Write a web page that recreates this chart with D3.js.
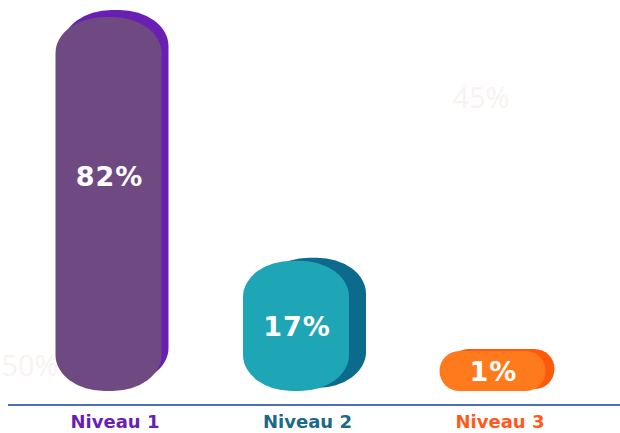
<!DOCTYPE html>
<html>
<head>
<meta charset="utf-8">
<script src="https://cdn.jsdelivr.net/npm/d3@7"></script>
<style>
  html, body { margin: 0; padding: 0; background: #fff; }
  svg { display: block; font-family: 'DejaVu Sans', 'Open Sans', sans-serif; }
</style>
</head>
<body>
<svg id="chart" width="620" height="433"></svg>
<script>
// data
const categories = ['Niveau 1', 'Niveau 2', 'Niveau 3']
const values = [82, 17, 1]
const frontColors = ['#6f4a82', '#1fa6b6', '#ff7a1c']
const backColors = ['#6a1fb4', '#0c6a8c', '#ff5a0c']
const labelColors = ['#6a1fb4', '#1b6a88', '#ff5a1c']

const baseY = 391
const barW = 106
const depth = [7, 17, 9]
const lift = [7, 3, 2]

const svg = d3.select('#chart')

const x = d3.scalePoint()
  .domain(categories)
  .range([112, 497])

const h = d3.scalePow()
  .exponent(0.67)
  .domain([0, 82])
  .range([0, 374])

const barH = (v) => Math.max(40, h(v))

// faint ghost labels in the background
svg.append('text')
  .attr('x', 481).attr('y', 108)
  .attr('text-anchor', 'middle')
  .attr('font-family', 'Open Sans, sans-serif')
  .attr('font-size', 29)
  .attr('fill', '#f8f3f1')
  .text('45%')
svg.append('text')
  .attr('x', 30).attr('y', 376)
  .attr('text-anchor', 'middle')
  .attr('font-family', 'Open Sans, sans-serif')
  .attr('font-size', 29)
  .attr('fill', '#f8f3f1')
  .text('50%')

const bars = svg.selectAll('g.bar')
  .data(values)
  .join('g')
  .attr('class', 'bar')

const rx = (hh) => Math.min(barW / 2 - 4, hh / 2)
const ry = (hh) => Math.min(36, hh / 2)

// back (3d side)
bars.append('rect')
  .attr('x', (d, i) => x(categories[i]) - (barW + depth[i]) / 2 + depth[i])
  .attr('y', (d, i) => baseY - barH(d) - lift[i])
  .attr('width', barW)
  .attr('height', (d) => barH(d))
  .attr('rx', (d) => rx(barH(d)))
  .attr('ry', (d) => ry(barH(d)))
  .attr('fill', (d, i) => backColors[i])

// front
bars.append('rect')
  .attr('x', (d, i) => x(categories[i]) - (barW + depth[i]) / 2)
  .attr('y', (d) => baseY - barH(d))
  .attr('width', barW)
  .attr('height', (d) => barH(d))
  .attr('rx', (d) => rx(barH(d)))
  .attr('ry', (d) => ry(barH(d)))
  .attr('fill', (d, i) => frontColors[i])

bars.append('text')
  .attr('x', (d, i) => x(categories[i]) - depth[i] / 2 + 1)
  .attr('y', (d) => {
    const hh = barH(d)
    return hh > 300 ? baseY - hh + 169 : baseY - hh / 2 + 10
  })
  .attr('text-anchor', 'middle')
  .attr('font-size', 27)
  .attr('font-weight', 700)
  .attr('letter-spacing', 1)
  .attr('fill', '#fff')
  .text((d) => d + '%')

// axis line
svg.append('line')
  .attr('x1', 8).attr('x2', 620)
  .attr('y1', 405).attr('y2', 405)
  .attr('stroke', '#4d6fb3')
  .attr('stroke-width', 2)

svg.selectAll('text.cat')
  .data(categories)
  .join('text')
  .attr('class', 'cat')
  .attr('x', (d) => x(d) + 3)
  .attr('y', 428)
  .attr('text-anchor', 'middle')
  .attr('font-size', 18)
  .attr('font-weight', 700)
  .attr('fill', (d, i) => labelColors[i])
  .text((d) => d)
</script>
</body>
</html>
